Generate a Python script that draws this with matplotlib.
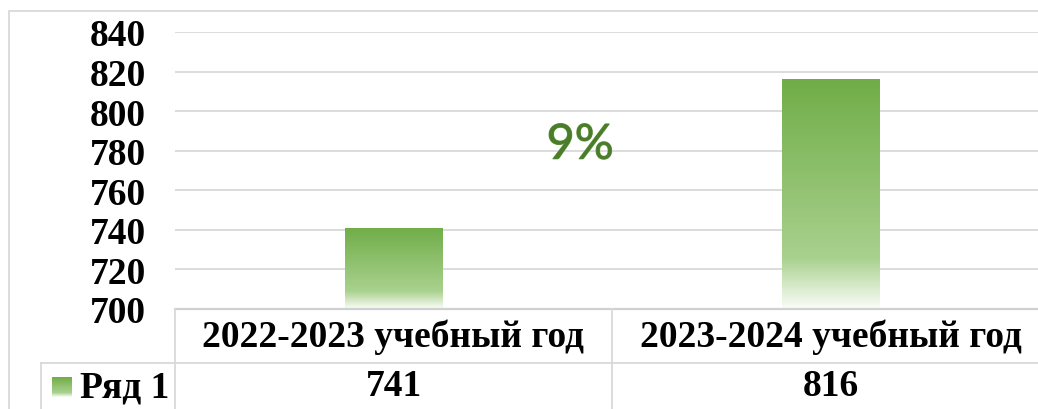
import matplotlib
matplotlib.use("Agg")
import matplotlib.pyplot as plt
import matplotlib.patheffects as pe
import numpy as np
from matplotlib.colors import LinearSegmentedColormap
from matplotlib.patches import Rectangle

# данные
categories = ["2022-2023 учебный год", "2023-2024 учебный год"]
values = [741, 816]
series_name = "Ряд 1"
growth_label = "9%"
y_ticks = [700, 720, 740, 760, 780, 800, 820, 840]

W, H = 1038, 410
fig = plt.figure(figsize=(W / 100, H / 100), dpi=100)
fig.patch.set_facecolor("white")

# область построения (правый край выходит за кадр, как в исходнике)
left, right, top, bottom = 175, 1049, 33, 310
ax = fig.add_axes([left / W, 1 - bottom / H, (right - left) / W, (bottom - top) / H])
ax.set_xlim(-0.5, 1.5)
ax.set_ylim(700, 840)
ax.set_yticks(y_ticks)
ax.set_xticks([])
ax.grid(axis="y", color="#d9d9d9", lw=1.3)
ax.set_axisbelow(True)
for s in ax.spines.values():
    s.set_visible(False)
ax.tick_params(axis="y", length=0, pad=21)
for lab in ax.get_yticklabels():
    lab.set_fontfamily("Liberation Serif")
    lab.set_fontweight("bold")
    lab.set_fontsize(27)

# градиентные столбцы
cmap = LinearSegmentedColormap.from_list(
    "grn", [(0.0, "#70ad47"), (0.78, "#a9d18e"), (1.0, "#fbfdf9")])
grad = np.linspace(0, 1, 256).reshape(-1, 1)
x = np.arange(len(values))
bars = ax.bar(x, np.array(values) - 700, bottom=700, width=0.222,
              color="none", edgecolor="none")
for b in bars:
    im = ax.imshow(grad, cmap=cmap, aspect="auto", origin="upper",
                   extent=[b.get_x(), b.get_x() + b.get_width(), b.get_y(), b.get_y() + b.get_height()],
                   zorder=2)
    im.set_clip_path(b)

# подпись прироста
ax.text(0.427, 783, growth_label, ha="center", va="center", fontsize=35,
        family="Lato", weight="normal", color="#4a7c2c",
        path_effects=[pe.withStroke(linewidth=0.8, foreground="#62983f")])

# таблица данных
row_h = 54 / (bottom - top)
grid_kw = dict(color="#d9d9d9", lw=1.3, clip_on=False)
bt = ax.get_xaxis_transform()
ax.plot([-0.5, 1.5], [0, 0], transform=bt, color="#d0d0d0", lw=1.6, clip_on=False)
ax.plot([-0.5, 1.5], [-row_h, -row_h], transform=bt, **grid_kw)
for xv in [-0.5, 0.5, 1.5]:
    ax.plot([xv, xv], [0, -2], transform=bt, **grid_kw)
for i, (cat, v) in enumerate(zip(categories, values)):
    ax.text(i, -row_h / 2, cat, transform=bt, ha="center", va="center",
            family="Liberation Serif", weight="bold", fontsize=27)
    ax.text(i, -row_h * 1.42, str(v), transform=bt, ha="center", va="center",
            family="Liberation Serif", weight="bold", fontsize=27)

# ячейка легенды
fig.add_artist(plt.Line2D([41 / W, left / W], [1 - 364 / H] * 2, transform=fig.transFigure,
                          color="#d9d9d9", lw=1.3))
fig.add_artist(plt.Line2D([41 / W, 41 / W], [1 - 364 / H, 0], transform=fig.transFigure,
                          color="#d9d9d9", lw=1.3))
kax = fig.add_axes([52 / W, 1 - 398 / H, 20 / W, 20 / H])
kax.imshow(grad, cmap=cmap, aspect="auto")
kax.axis("off")
fig.text(80 / W, 1 - 388 / H, series_name, ha="left", va="center",
         family="Liberation Serif", weight="bold", fontsize=27)

# внешняя рамка диаграммы
fig.add_artist(Rectangle((9 / W, -0.1), 1.2, 1 - 12 / H + 0.1, transform=fig.transFigure,
                         fill=False, edgecolor="#d9d9d9", lw=1.3))

fig.savefig("out.png", dpi=100)
